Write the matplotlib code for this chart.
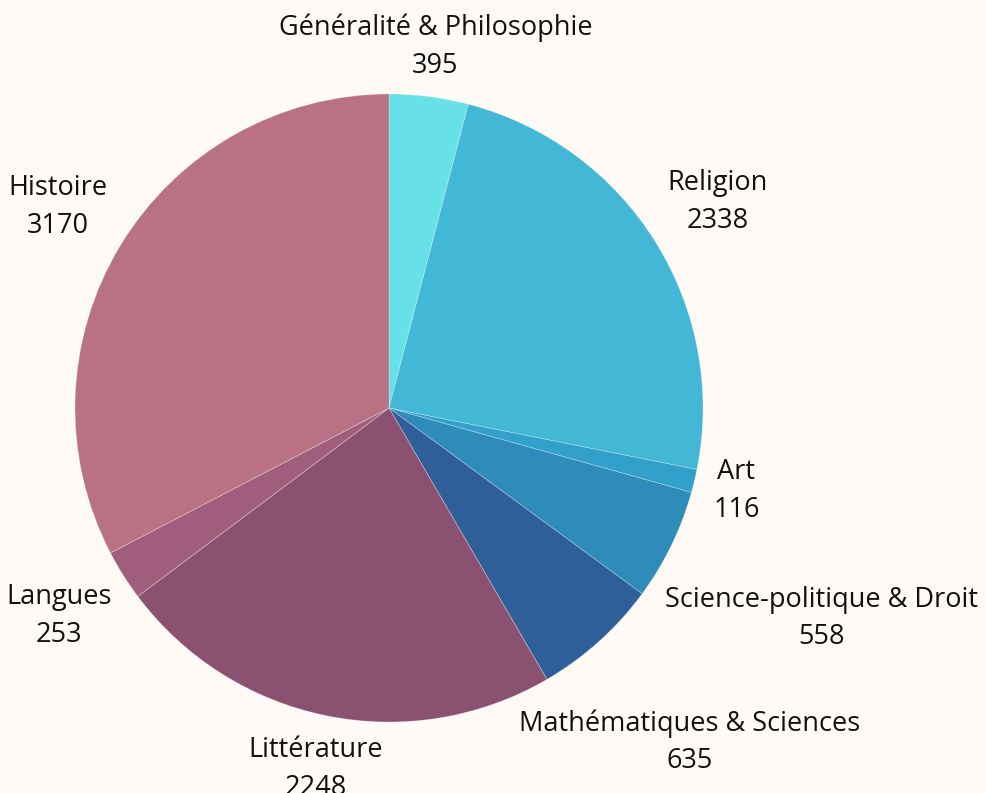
import matplotlib
matplotlib.use("Agg")
import matplotlib.pyplot as plt
import numpy as np

# donnees du graphique
categories = ["Généralité & Philosophie", "Religion", "Art", "Science-politique & Droit",
              "Mathématiques & Sciences", "Littérature", "Langues", "Histoire"]
values = [395, 2338, 116, 558, 635, 2248, 253, 3170]
colors = ["#67e1e7", "#42b7d6", "#31a1cc", "#2e8bba", "#2e5f99", "#8a5270", "#a05e7c", "#b87284"]

bg = "#fffaf6"
W, H, dpi = 986, 793, 100
cx, cy, R = 389, 408, 314  # centre et rayon en pixels

plt.rcParams['font.family'] = ['Open Sans', 'DejaVu Sans']
fig = plt.figure(figsize=(W / dpi, H / dpi), dpi=dpi, facecolor=bg)
ax = fig.add_axes([(cx - R) / W, (H - cy - R) / H, 2 * R / W, 2 * R / H])
ax.set_facecolor(bg)

wedges, _ = ax.pie(values, colors=colors, startangle=90, counterclock=False, radius=1,
                   wedgeprops=dict(edgecolor=(1, 1, 1, 0.3), linewidth=0.6))
ax.set_xlim(-1, 1)
ax.set_ylim(-1, 1)
ax.set_aspect('equal')
ax.axis('off')

fig.canvas.draw()
renderer = fig.canvas.get_renderer()

gap = 1.045
for w, name, v in zip(wedges, categories, values):
    ang = np.deg2rad((w.theta1 + w.theta2) / 2)
    t = ax.text(0, 0, f"{name}\n{v}", ha='center', va='center', fontsize=19.5,
                color='#111111', linespacing=1.45, clip_on=False)
    bb = t.get_window_extent(renderer)
    hw = bb.width / 2 / R
    hh = bb.height / 2 / R
    # pousser le texte le long du rayon jusqu'a ce que la boite soit hors du cercle
    lo, hi = 0.0, 3.0
    for _ in range(60):
        mid = (lo + hi) / 2
        x, y = mid * np.cos(ang), mid * np.sin(ang)
        px = max(abs(x) - hw, 0)
        py = max(abs(y) - hh, 0)
        if np.hypot(px, py) < gap:
            lo = mid
        else:
            hi = mid
    t.set_position((hi * np.cos(ang), hi * np.sin(ang)))

fig.savefig("out.png", dpi=dpi, facecolor=bg)
